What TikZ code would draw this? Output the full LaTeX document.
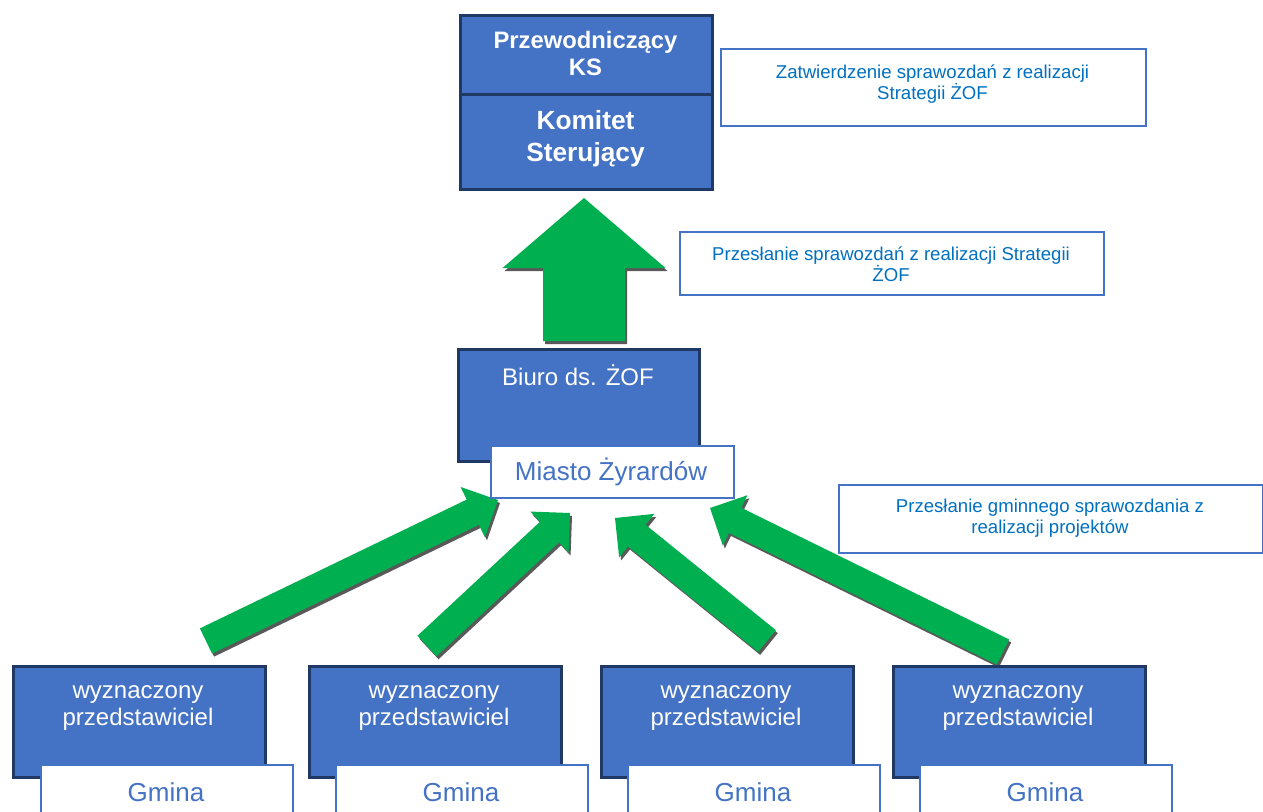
\documentclass[tikz,border=0pt]{standalone}
\usepackage{fontspec}
\setmainfont{Liberation Sans}
\usetikzlibrary{calc}
\definecolor{boxblue}{HTML}{4472C4}
\definecolor{navyline}{HTML}{203864}
\definecolor{txtblue}{HTML}{0070C0}
\definecolor{arrgreen}{HTML}{00B050}
\definecolor{shadowgray}{HTML}{595959}
\newcommand\fatarrow[5]{%
  \coordinate (fa-b) at ($(#2)!#5!(#1)$);
  \fill[arrgreen, preaction={fill=shadowgray, transform canvas={shift={(2pt,-3pt)}}}]
    ($(#1)!#3!90:(#2)$) -- ($(fa-b)!#3!-90:(#1)$) -- ($(fa-b)!#4!-90:(#1)$) -- (#2)
    -- ($(fa-b)!#4!90:(#1)$) -- ($(fa-b)!#3!90:(#1)$) -- ($(#1)!#3!-90:(#2)$) -- cycle;
}
\begin{document}
\begin{tikzpicture}[x=1pt,y=-1pt,
  sized/.style 2 args={minimum width=#1 pt, minimum height=#2 pt, inner sep=0pt, anchor=north west},
  bluebox/.style={draw=navyline, line width=2.5pt, fill=boxblue},
  whitebox/.style={draw=boxblue, line width=2pt, fill=white},
  notebox/.style={draw=boxblue, line width=2pt, fill=white},
  notetext/.style={text=txtblue, align=center, font=\fontsize{18.6}{21}\selectfont},
  headtext/.style={text=white, align=center, font=\bfseries\fontsize{23.8}{27}\selectfont},
  komtext/.style={text=white, align=center, font=\bfseries\fontsize{26.3}{32}\selectfont},
  reptext/.style={text=white, align=center, font=\fontsize{24}{27}\selectfont},
  citytext/.style={text=boxblue, align=center, font=\fontsize{26}{30}\selectfont}
]
\clip (0,0) rectangle (1263,811);
\fill[white] (0,0) rectangle (1263,811);

% arrow coordinates
\coordinate (up-tail) at (584,341);
\coordinate (up-tip) at (584,198);
\coordinate (a1-tail) at (206,641);
\coordinate (a1-tip) at (498,500);
\coordinate (a2-tail) at (427,646);
\coordinate (a2-tip) at (570,513);
\coordinate (a3-tail) at (767,641);
\coordinate (a3-tip) at (615,518);
\coordinate (a4-tail) at (1003,652);
\coordinate (a4-tip) at (710,508);

\fatarrow{up-tail}{up-tip}{41pt}{81.5pt}{70pt}
\fatarrow{a1-tail}{a1-tip}{14pt}{28pt}{28pt}
\fatarrow{a2-tail}{a2-tip}{14pt}{28pt}{28pt}
\fatarrow{a3-tail}{a3-tip}{14pt}{28pt}{28pt}
\fatarrow{a4-tail}{a4-tip}{14pt}{28pt}{28pt}

% top boxes
\node[bluebox, sized={252}{79}] (ks) at (459,14) {};
\node[bluebox, sized={252}{95}] (kom) at (459,93) {};
\node[headtext] (ks-t) at (585.5,53.5) {Przewodniczący\\KS};
\node[komtext] (kom-t) at (585.5,139) {Komitet\\Sterujący};

% notes
\node[notebox, sized={425}{77}] (zat) at (720,48) {};
\node[notetext] (zat-t) at (932.5,84) {Zatwierdzenie sprawozdań z realizacji\\Strategii ŻOF};
\node[notebox, sized={424}{63}] (prz1) at (679,231) {};
\node[notetext] (prz1-t) at (891,264.5) {Przesłanie sprawozdań z realizacji Strategii\\ŻOF};
\node[notebox, sized={424}{68}] (prz2) at (838,484) {};
\node[notetext] (prz2-t) at (1050,518) {Przesłanie gminnego sprawozdania z\\realizacji projektów};

% Biuro
\node[bluebox, sized={241}{112}] (biuro) at (457,348) {};
\node[reptext] (biuro-t) at (578,375) {Biuro ds. ŻOF};
\node[whitebox, sized={243}{52}] (miasto) at (490,445) {};
\node[citytext] (miasto-t) at (611,472) {Miasto Żyrardów};

% bottom
\foreach \i/\xb/\xg in {1/12/40, 2/308/335, 3/600/627, 4/892/919}{
  \node[bluebox, sized={252}{111}] (w\i) at (\xb,665) {};
  \node[reptext] (w\i-t) at ($(\xb,708)+(126,0)$) {wyznaczony\\przedstawiciel};
  \node[whitebox, sized={252}{70}] (g\i) at (\xg,764) {};
  \node[citytext] (g\i-t) at ($(\xg,792)+(126,0)$) {Gmina};
}
\end{tikzpicture}
\end{document}
